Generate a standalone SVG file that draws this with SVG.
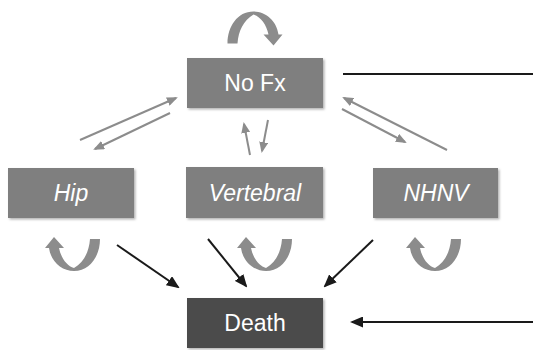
<svg xmlns="http://www.w3.org/2000/svg" width="533" height="350" viewBox="0 0 533 350">
<style>
.node{fill:#7f7f7f;}
.death{fill:#4b4b4b;}
.lbl{font-family:"Liberation Sans",Arial,sans-serif;font-size:23px;fill:#ffffff;text-anchor:middle;}
.it{font-style:italic;}
.g{stroke:#8c8c8c;stroke-width:2;fill:none;}
.k{stroke:#1a1a1a;stroke-width:2;fill:none;}
.loop{fill:#8c8c8c;}
</style>
<defs>
<filter id="sh" x="-10%" y="-10%" width="130%" height="140%">
<feDropShadow dx="1.5" dy="1.5" stdDeviation="1" flood-color="#000" flood-opacity="0.3"/>
</filter>
<marker id="ak" markerUnits="userSpaceOnUse" markerWidth="13" markerHeight="11" viewBox="0 0 13 11" refX="11" refY="5.5" orient="auto">
<path d="M0,0 L13,5.5 L0,11 z" fill="#1a1a1a"/>
</marker>
<marker id="ag" markerUnits="userSpaceOnUse" markerWidth="11" markerHeight="9" viewBox="0 0 11 9" refX="9" refY="4.5" orient="auto">
<path d="M0,0 L11,4.5 L0,9 z" fill="#8c8c8c"/>
</marker>
<path id="lp" d="M100,239 C100,256 90,271 74,271 C62,271 51,262 49,248 L45,248 L54,237 L64,248 L59,248 C61,258 67,266 74,268 C84,262 89,252 90,239 Z"/>
</defs>

<g id="connectors">
<line class="g" x1="80" y1="140" x2="176" y2="98" marker-end="url(#ag)"/>
<line class="g" x1="170" y1="113" x2="95" y2="149" marker-end="url(#ag)"/>
<line class="g" x1="250" y1="155" x2="244" y2="124" marker-end="url(#ag)"/>
<line class="g" x1="268" y1="120" x2="262" y2="151" marker-end="url(#ag)"/>
<line class="g" x1="447" y1="150" x2="344" y2="98" marker-end="url(#ag)"/>
<line class="g" x1="342" y1="109" x2="405" y2="142" marker-end="url(#ag)"/>
<line class="k" x1="343" y1="74" x2="533" y2="74"/>
<line class="k" x1="117" y1="245" x2="178" y2="287" marker-end="url(#ak)"/>
<line class="k" x1="208" y1="239" x2="246" y2="286" marker-end="url(#ak)"/>
<line class="k" x1="373" y1="240" x2="325" y2="286" marker-end="url(#ak)"/>
<line class="k" x1="533" y1="322" x2="352" y2="322" marker-end="url(#ak)"/>
<use href="#lp" class="loop" transform="matrix(-1 0 0 -1 327.5 282.5)"/>
<use href="#lp" class="loop"/>
<use href="#lp" class="loop" transform="translate(192 0)"/>
<use href="#lp" class="loop" transform="translate(361 0)"/>
</g>

<g id="nofx">
<rect class="node" x="187" y="58" width="136" height="50" filter="url(#sh)"/>
<text class="lbl" x="255" y="91">No Fx</text>
</g>
<g id="hip">
<rect class="node" x="8" y="168" width="126" height="50" filter="url(#sh)"/>
<text class="lbl it" x="71" y="201">Hip</text>
</g>
<g id="vertebral">
<rect class="node" x="186" y="167" width="137" height="51" filter="url(#sh)"/>
<text class="lbl it" x="255" y="201">Vertebral</text>
</g>
<g id="nhnv">
<rect class="node" x="373" y="168" width="125" height="50" filter="url(#sh)"/>
<text class="lbl it" x="436" y="201">NHNV</text>
</g>
<g id="death">
<rect class="death" x="187" y="298" width="136" height="50" filter="url(#sh)"/>
<text class="lbl" x="255" y="331">Death</text>
</g>
</svg>
